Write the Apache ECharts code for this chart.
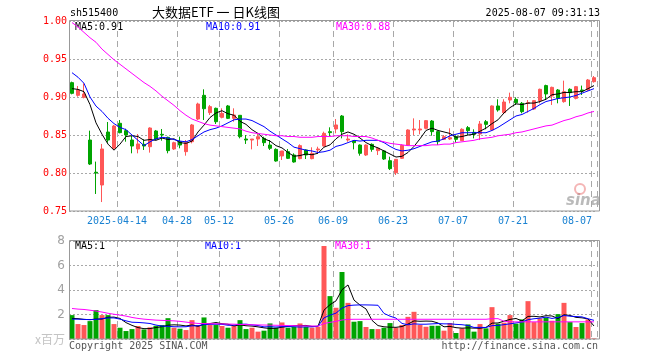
<!DOCTYPE html>
<html><head><meta charset="utf-8">
<script src="https://cdn.jsdelivr.net/npm/echarts@6/dist/echarts.min.js"></script>
<style>html,body{margin:0;padding:0;background:#fff}#c{width:660px;height:360px}</style>
</head><body><div id="c"></div>
<script>
const dates = [
"2025-04-01","2025-04-02","2025-04-03","2025-04-07","2025-04-08","2025-04-09","2025-04-10","2025-04-11","2025-04-14","2025-04-15",
"2025-04-16","2025-04-17","2025-04-18","2025-04-21","2025-04-22","2025-04-23","2025-04-24","2025-04-25","2025-04-28","2025-04-29",
"2025-04-30","2025-05-06","2025-05-07","2025-05-08","2025-05-09","2025-05-12","2025-05-13","2025-05-14","2025-05-15","2025-05-16",
"2025-05-19","2025-05-20","2025-05-21","2025-05-22","2025-05-23","2025-05-26","2025-05-27","2025-05-28","2025-05-29","2025-05-30",
"2025-06-03","2025-06-04","2025-06-05","2025-06-06","2025-06-09","2025-06-10","2025-06-11","2025-06-12","2025-06-13","2025-06-16",
"2025-06-17","2025-06-18","2025-06-19","2025-06-20","2025-06-23","2025-06-24","2025-06-25","2025-06-26","2025-06-27","2025-06-30",
"2025-07-01","2025-07-02","2025-07-03","2025-07-04","2025-07-07","2025-07-08","2025-07-09","2025-07-10","2025-07-11","2025-07-14",
"2025-07-15","2025-07-16","2025-07-17","2025-07-18","2025-07-21","2025-07-22","2025-07-23","2025-07-24","2025-07-25","2025-07-28",
"2025-07-29","2025-07-30","2025-07-31","2025-08-01","2025-08-04","2025-08-05","2025-08-06","2025-08-07"];

const openP = [
.9189,.9022,.8996,.8434,.8010,.7842,.8539,.8325,.8654,.8557,
.8434,.8316,.8377,.8346,.8553,.8509,.8469,.8316,.8412,.8281,
.8412,.8710,.9022,.8794,.8851,.8732,.8882,.8719,.8759,.8447,
.8434,.8447,.8456,.8368,.8311,.8224,.8281,.8237,.8189,.8303,
.8189,.8303,.8355,.8544,.8579,.8750,.8434,.8421,.8368,.8237,
.8377,.8294,.8290,.8162,.8004,.8193,.8368,.8566,.8566,.8588,
.8684,.8544,.8443,.8447,.8478,.8425,.8597,.8535,.8513,.8675,
.8566,.8882,.8794,.8960,.8969,.8917,.8917,.8842,.8952,.9150,
.9013,.9092,.8939,.9101,.8982,.9092,.9092,.9202];
const closeP = [
.9048,.9092,.9040,.8118,.8000,.8316,.8434,.8618,.8531,.8500,
.8355,.8382,.8355,.8592,.8447,.8500,.8294,.8399,.8368,.8399,
.8632,.8908,.8846,.8873,.8675,.8785,.8719,.8763,.8478,.8434,
.8447,.8478,.8399,.8325,.8158,.8290,.8193,.8145,.8360,.8237,
.8259,.8316,.8522,.8531,.8632,.8544,.8447,.8399,.8259,.8368,
.8311,.8325,.8184,.8057,.8180,.8364,.8566,.8579,.8579,.8689,
.8544,.8412,.8478,.8465,.8443,.8575,.8557,.8509,.8645,.8640,
.8882,.8829,.8934,.8996,.8925,.8807,.8925,.8952,.9101,.9040,
.9127,.8982,.9070,.9057,.9136,.9079,.9224,.9254];
const lowP = [
.9035,.9004,.8982,.8105,.7724,.7618,.8399,.8303,.8522,.8412,
.8259,.8259,.8303,.8268,.8434,.8425,.8259,.8303,.8325,.8228,
.8390,.8697,.8697,.8763,.8645,.8719,.8710,.8675,.8456,.8382,
.8311,.8355,.8355,.8303,.8149,.8171,.8184,.8136,.8180,.8184,
.8180,.8259,.8346,.8478,.8522,.8456,.8412,.8311,.8228,.8224,
.8280,.8237,.8171,.8039,.7974,.8184,.8355,.8500,.8509,.8575,
.8491,.8368,.8434,.8434,.8399,.8421,.8500,.8456,.8434,.8575,
.8557,.8807,.8776,.8917,.8895,.8785,.8794,.8829,.8917,.8960,
.8895,.8917,.8925,.8882,.8969,.9026,.9083,.9189];
const highP = [
.9202,.9145,.9180,.8557,.8150,.8382,.8671,.8632,.8697,.8583,
.8487,.8513,.8443,.8601,.8566,.8579,.8478,.8412,.8478,.8434,
.8645,.8925,.9101,.8895,.8860,.8851,.8895,.8851,.8759,.8500,
.8447,.8522,.8478,.8434,.8325,.8290,.8316,.8259,.8377,.8311,
.8338,.8346,.8544,.8601,.8710,.8763,.8509,.8434,.8377,.8377,
.8390,.8338,.8303,.8215,.8184,.8377,.8575,.8719,.8697,.8697,
.8697,.8557,.8500,.8588,.8496,.8588,.8618,.8575,.8684,.8697,
.8890,.8970,.8970,.9057,.8996,.8934,.8960,.8960,.9110,.9162,
.9136,.9105,.9215,.9114,.9145,.9150,.9237,.9276];

const ma5 = [
.911,.910,.907,.890,.866,.851,.838,.830,.838,.848,
.849,.848,.843,.844,.843,.846,.844,.845,.840,.839,
.842,.854,.863,.873,.879,.882,.878,.876,.868,.864,
.857,.852,.845,.842,.836,.833,.827,.822,.823,.825,
.824,.826,.834,.837,.845,.851,.854,.851,.846,.840,
.836,.833,.829,.825,.821,.822,.827,.835,.845,.856,
.859,.856,.854,.852,.847,.848,.850,.851,.855,.859,
.865,.870,.879,.886,.891,.890,.892,.892,.894,.897,
.903,.904,.906,.906,.907,.907,.911,.915];
const ma10 = [
.932,.926,.918,.900,.888,.881,.872,.865,.860,.857,
.850,.843,.836,.841,.845,.847,.846,.844,.842,.841,
.844,.849,.854,.857,.859,.862,.866,.870,.871,.871,
.869,.865,.861,.855,.850,.845,.840,.834,.832,.830,
.829,.827,.828,.830,.835,.837,.840,.843,.842,.843,
.843,.843,.840,.835,.831,.829,.830,.832,.835,.838,
.841,.842,.845,.849,.851,.853,.853,.853,.853,.853,
.856,.860,.865,.870,.875,.877,.881,.885,.890,.894,
.896,.898,.899,.900,.902,.905,.908,.911];
const ma30 = [
.998,.992,.985,.978,.972,.963,.956,.949,.943,.937,
.931,.925,.919,.914,.908,.901,.895,.889,.882,.876,
.871,.868,.865,.863,.862,.861,.860,.859,.858,.855,
.853,.852,.851,.850,.849,.849,.848,.848,.847,.847,
.847,.848,.848,.848,.849,.849,.849,.848,.848,.848,
.846,.843,.841,.839,.838,.837,.836,.836,.836,.836,
.837,.837,.838,.838,.840,.841,.842,.843,.845,.846,
.847,.849,.850,.851,.853,.854,.856,.858,.860,.862,
.863,.866,.869,.871,.874,.876,.879,.881];

const vol = [
1.95,1.22,1.14,1.46,2.36,1.95,1.95,1.22,0.92,0.65,
0.81,1.06,0.78,0.95,1.08,1.14,1.70,0.92,0.84,0.73,
1.54,1.14,1.76,1.14,1.14,1.06,0.92,1.08,1.54,0.81,
0.92,0.60,0.68,1.27,0.92,1.35,0.92,1.00,1.27,1.00,
0.92,1.00,7.59,3.50,2.55,5.47,2.95,1.41,1.46,0.98,
0.81,0.81,0.92,1.30,0.92,1.14,1.81,2.22,1.14,1.00,
1.08,1.08,0.68,1.30,0.49,0.87,1.19,0.60,1.22,0.87,
2.60,1.25,1.33,1.95,1.25,1.60,3.09,1.38,1.68,1.76,
1.49,2.03,2.95,1.38,0.98,1.30,1.60,0.05];
const vma5 = [
1.68,1.66,1.60,1.58,1.626,1.626,1.772,1.788,1.680,1.338,
1.110,0.932,0.844,0.850,0.936,1.002,1.130,1.158,1.136,1.066,
1.146,1.034,1.202,1.262,1.344,1.248,1.204,1.068,1.148,1.082,
1.054,0.990,0.910,0.856,0.878,0.964,1.028,1.092,1.092,1.108,
1.022,1.038,2.356,2.802,3.112,4.022,4.412,3.176,2.768,2.454,
1.522,1.094,0.996,0.964,0.952,1.018,1.218,1.478,1.446,1.462,
1.450,1.304,0.996,1.028,0.926,0.884,0.906,0.890,0.874,0.950,
1.296,1.308,1.454,1.600,1.676,1.476,1.844,1.854,1.800,1.902,
1.880,1.668,1.982,1.922,1.766,1.728,1.642,1.062];
const vma10 = [
1.62,1.62,1.60,1.58,1.60,1.66,1.72,1.72,1.62,1.482,
1.368,1.352,1.316,1.265,1.137,1.056,1.031,1.001,0.993,1.001,
1.074,1.082,1.180,1.199,1.205,1.197,1.119,1.135,1.205,1.213,
1.151,1.097,0.989,1.002,0.980,1.009,1.009,1.001,0.974,0.993,
0.993,1.033,1.724,1.947,2.110,2.522,2.725,2.766,2.785,2.783,
2.772,2.753,2.086,1.866,1.703,1.270,1.156,1.237,1.205,1.207,
1.234,1.261,1.237,1.237,1.194,1.167,1.105,0.943,0.951,0.938,
1.090,1.107,1.172,1.237,1.313,1.386,1.576,1.654,1.700,1.789,
1.678,1.756,1.918,1.861,1.834,1.804,1.655,1.522];
const vma30 = [
2.49,2.44,2.41,2.35,2.28,2.20,2.10,2.02,1.95,1.87,
1.76,1.68,1.62,1.58,1.54,1.52,1.50,1.48,1.44,1.38,
1.32,1.27,1.26,1.25,1.24,1.23,1.22,1.21,1.19,1.18,
1.16,1.15,1.14,1.13,1.12,1.11,1.10,1.09,1.08,1.07,
1.06,1.05,1.26,1.36,1.44,1.55,1.60,1.61,1.61,1.61,
1.61,1.61,1.61,1.61,1.61,1.61,1.61,1.61,1.61,1.61,
1.61,1.61,1.61,1.61,1.61,1.61,1.61,1.61,1.61,1.61,
1.66,1.66,1.45,1.40,1.40,1.40,1.40,1.40,1.40,1.40,
1.40,1.40,1.40,1.40,1.40,1.40,1.40,1.40];

const labelDates = ["2025-04-14","2025-04-28","2025-05-12","2025-05-26","2025-06-09","2025-06-23","2025-07-07","2025-07-21","2025-08-07"];
const priceTicks = [0.75,0.80,0.85,0.90,0.95,1.00];
const volTicks = [0,2,4,6,8];

const RED = '#ff5757', GREEN = '#00a400', GRID = '#a8a8a8';
const MONO = "'DejaVu Sans Mono', monospace";
const labelIdx = labelDates.map(d => dates.indexOf(d));
const isLabel = i => labelIdx.indexOf(i) >= 0;
const trunc2 = v => (Math.floor(v * 100 + 1e-9) / 100).toFixed(2);

const kData = dates.map((d, i) => [openP[i], closeP[i], lowP[i], highP[i]]);
const volData = vol.map((v, i) => ({ value: v, itemStyle: { color: closeP[i] >= openP[i] ? RED : GREEN } }));

const chart = echarts.init(document.getElementById('c'), null, { renderer: 'canvas' });

function xAx(gridIndex, showLabel) {
  return {
    type: 'category', gridIndex, data: dates, boundaryGap: true,
    axisLine: { show: false }, axisTick: { show: false },
    axisLabel: {
      show: showLabel, interval: (i) => isLabel(i), margin: 5,
      color: '#1a82d2', fontFamily: MONO, fontSize: 10,
      alignMaxLabel: 'right',
      formatter: (v) => {
        const k = labelDates.indexOf(v);
        const t = k === 0 ? v : v.slice(5);
        return k === labelDates.length - 1 ? '{l|' + t + '}' : '{n|' + t + '}';
      },
      rich: {
        n: { color: '#1a82d2', fontFamily: MONO, fontSize: 10, padding: [0, 6, 0, 0] },
        l: { color: '#1a82d2', fontFamily: MONO, fontSize: 10, padding: [0, 2, 0, 0] }
      }
    },
    splitLine: { show: true, interval: (i) => isLabel(i), lineStyle: { color: GRID, type: [6, 4], width: 1 } }
  };
}

const lineS = (name, data, color, xi, yi) => ({
  name, type: 'line', data, xAxisIndex: xi, yAxisIndex: yi, symbol: 'none', silent: true,
  lineStyle: { color, width: 1 }, z: 5
});

const txt = (text, x, y, fill, opts) => ({
  type: 'text', x, y, silent: true,
  style: Object.assign({ text, fill, font: '10px ' + MONO, textAlign: 'left', textVerticalAlign: 'middle' }, opts || {})
});

chart.setOption({
  animation: false,
  backgroundColor: '#fff',
  grid: [
    { left: 69, top: 21, width: 528, height: 190, show: false },
    { left: 69, top: 241, width: 528, height: 98, show: false }
  ],
  xAxis: [xAx(0, true), xAx(1, false)],
  yAxis: [
    { type: 'value', gridIndex: 0, min: priceTicks[0], max: priceTicks[priceTicks.length - 1], interval: 0.05,
      axisLine: { show: false }, axisTick: { show: false },
      axisLabel: { color: '#ff0000', fontFamily: MONO, fontSize: 10, margin: 2, formatter: v => v.toFixed(2) },
      splitLine: { show: true, lineStyle: { color: GRID, type: [2, 2], width: 1 } } },
    { type: 'value', gridIndex: 1, min: volTicks[0], max: volTicks[volTicks.length - 1], interval: 2,
      axisLine: { show: false }, axisTick: { show: false },
      axisLabel: { color: '#a0a0a0', fontFamily: "'DejaVu Sans', sans-serif", fontSize: 12, margin: 4,
        formatter: v => (v === 0 ? '' : String(v)) },
      splitLine: { show: true, lineStyle: { color: GRID, type: [2, 2], width: 1 } } }
  ],
  series: [
    { name: 'K', type: 'candlestick', data: kData, xAxisIndex: 0, yAxisIndex: 0, barWidth: 4, silent: true,
      itemStyle: { color: RED, color0: GREEN, borderColor: RED, borderColor0: GREEN, borderWidth: 1 } },
    lineS('MA5', ma5, '#000000', 0, 0),
    lineS('MA10', ma10, '#0000ff', 0, 0),
    lineS('MA30', ma30, '#ff00ff', 0, 0),
    { name: 'VOL', type: 'bar', data: volData, xAxisIndex: 1, yAxisIndex: 1, barWidth: 5, silent: true },
    lineS('VMA5', vma5, '#000000', 1, 1),
    lineS('VMA10', vma10, '#0000ff', 1, 1),
    lineS('VMA30', vma30, '#ff00ff', 1, 1)
  ],
  graphic: [
    { type: 'rect', silent: true, z: 10, shape: { x: 69.5, y: 20.5, width: 530, height: 190.5 }, style: { fill: 'none', stroke: '#999', lineWidth: 1 } },
    { type: 'rect', silent: true, z: 10, shape: { x: 69.5, y: 240.5, width: 530, height: 98.5 }, style: { fill: 'none', stroke: '#999', lineWidth: 1 } },
    txt('sh515400', 70, 13, '#000'),
    txt('大数据ETF 一 日K线图', 216, 12, '#000', { font: "13px 'Noto Sans CJK SC', sans-serif", textAlign: 'center' }),
    txt('2025-08-07 09:31:13', 600, 13, '#000', { textAlign: 'right' }),
    txt('MA5:' + trunc2(ma5[ma5.length - 1]), 75, 27, '#000'),
    txt('MA10:' + trunc2(ma10[ma10.length - 1]), 206, 27, '#0000ff'),
    txt('MA30:' + trunc2(ma30[ma30.length - 1]), 336, 27, '#ff00ff'),
    txt('MA5:' + Math.floor(vma5[vma5.length - 1]), 75, 246, '#000'),
    txt('MA10:' + Math.floor(vma10[vma10.length - 1]), 205, 246, '#0000ff'),
    txt('MA30:' + Math.floor(vma30[vma30.length - 1]), 335, 246, '#ff00ff'),
    txt('x百万', 65, 339, '#c4c4c4', { font: "12px 'Noto Sans CJK SC', sans-serif", textAlign: 'right' }),
    txt('Copyright 2025 SINA.COM', 69, 346, '#555'),
    txt('http://finance.sina.com.cn', 598, 346, '#555', { textAlign: 'right' }),
    { type: 'circle', silent: true, z: 1, shape: { cx: 580, cy: 189, r: 5 }, style: { fill: 'none', stroke: 'rgba(235,120,120,0.55)', lineWidth: 2 } },
    txt('sina', 566, 201, 'rgba(140,140,140,0.6)', { font: "italic bold 15px 'DejaVu Sans', sans-serif" })
  ]
});
</script></body></html>
